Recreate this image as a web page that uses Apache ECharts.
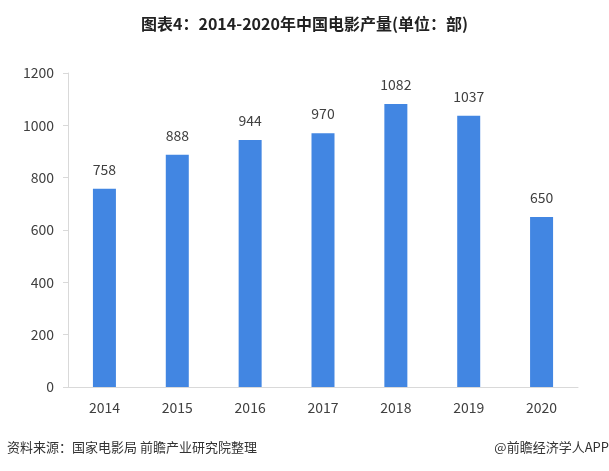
<!DOCTYPE html>
<html><head><meta charset="utf-8">
<script src="https://cdn.jsdelivr.net/npm/echarts@6/dist/echarts.min.js"></script>
<style>html,body{margin:0;padding:0;background:#fff}#c{width:609px;height:471px}</style>
</head><body><div id="c"></div>
<script>
const categories = ['2014','2015','2016','2017','2018','2019','2020'];
const values = [758, 888, 944, 970, 1082, 1037, 650];
const yTicks = [0, 200, 400, 600, 800, 1000, 1200];
const titleText = '图表4：2014-2020年中国电影产量(单位：部)';
const sourceText = '资料来源：国家电影局 前瞻产业研究院整理';
const brandText = '@前瞻经济学人APP';

const chart = echarts.init(document.getElementById('c'), null, {renderer:'canvas'});
const font = '"Microsoft YaHei","Noto Sans CJK SC",sans-serif';
chart.setOption({
  animation:false,
  backgroundColor:'#fff',
  title:{text:titleText,left:'center',top:11,textStyle:{fontSize:16,fontWeight:'bold',color:'#222',fontFamily:font}},
  graphic:[
    {type:'text',left:7,top:441,style:{text:sourceText,fontSize:13,fill:'#333',fontFamily:font}},
    {type:'text',right:0,top:441,style:{text:brandText,fontSize:13,fill:'#333',fontFamily:font}}
  ],
  grid:{left:68,right:31,top:73,bottom:84},
  xAxis:{type:'category',data:categories,
    axisLine:{lineStyle:{color:'#d9d9d9'}},axisTick:{show:false},
    axisLabel:{color:'#404040',fontSize:14,margin:14,fontFamily:font}},
  yAxis:{type:'value',min:yTicks[0],max:yTicks[yTicks.length-1],interval:200,
    axisLine:{show:true,lineStyle:{color:'#d9d9d9'}},
    axisTick:{show:true,inside:false,length:5,lineStyle:{color:'#d9d9d9'}},
    splitLine:{show:false},
    axisLabel:{color:'#404040',fontSize:14,margin:14,fontFamily:font,formatter:v=>String(v)}},
  series:[{type:'bar',data:values,barWidth:23,
    itemStyle:{color:'#4286E2'},
    label:{show:true,position:'top',distance:12,color:'#404040',fontSize:14,fontFamily:font}}]
});
</script></body></html>
